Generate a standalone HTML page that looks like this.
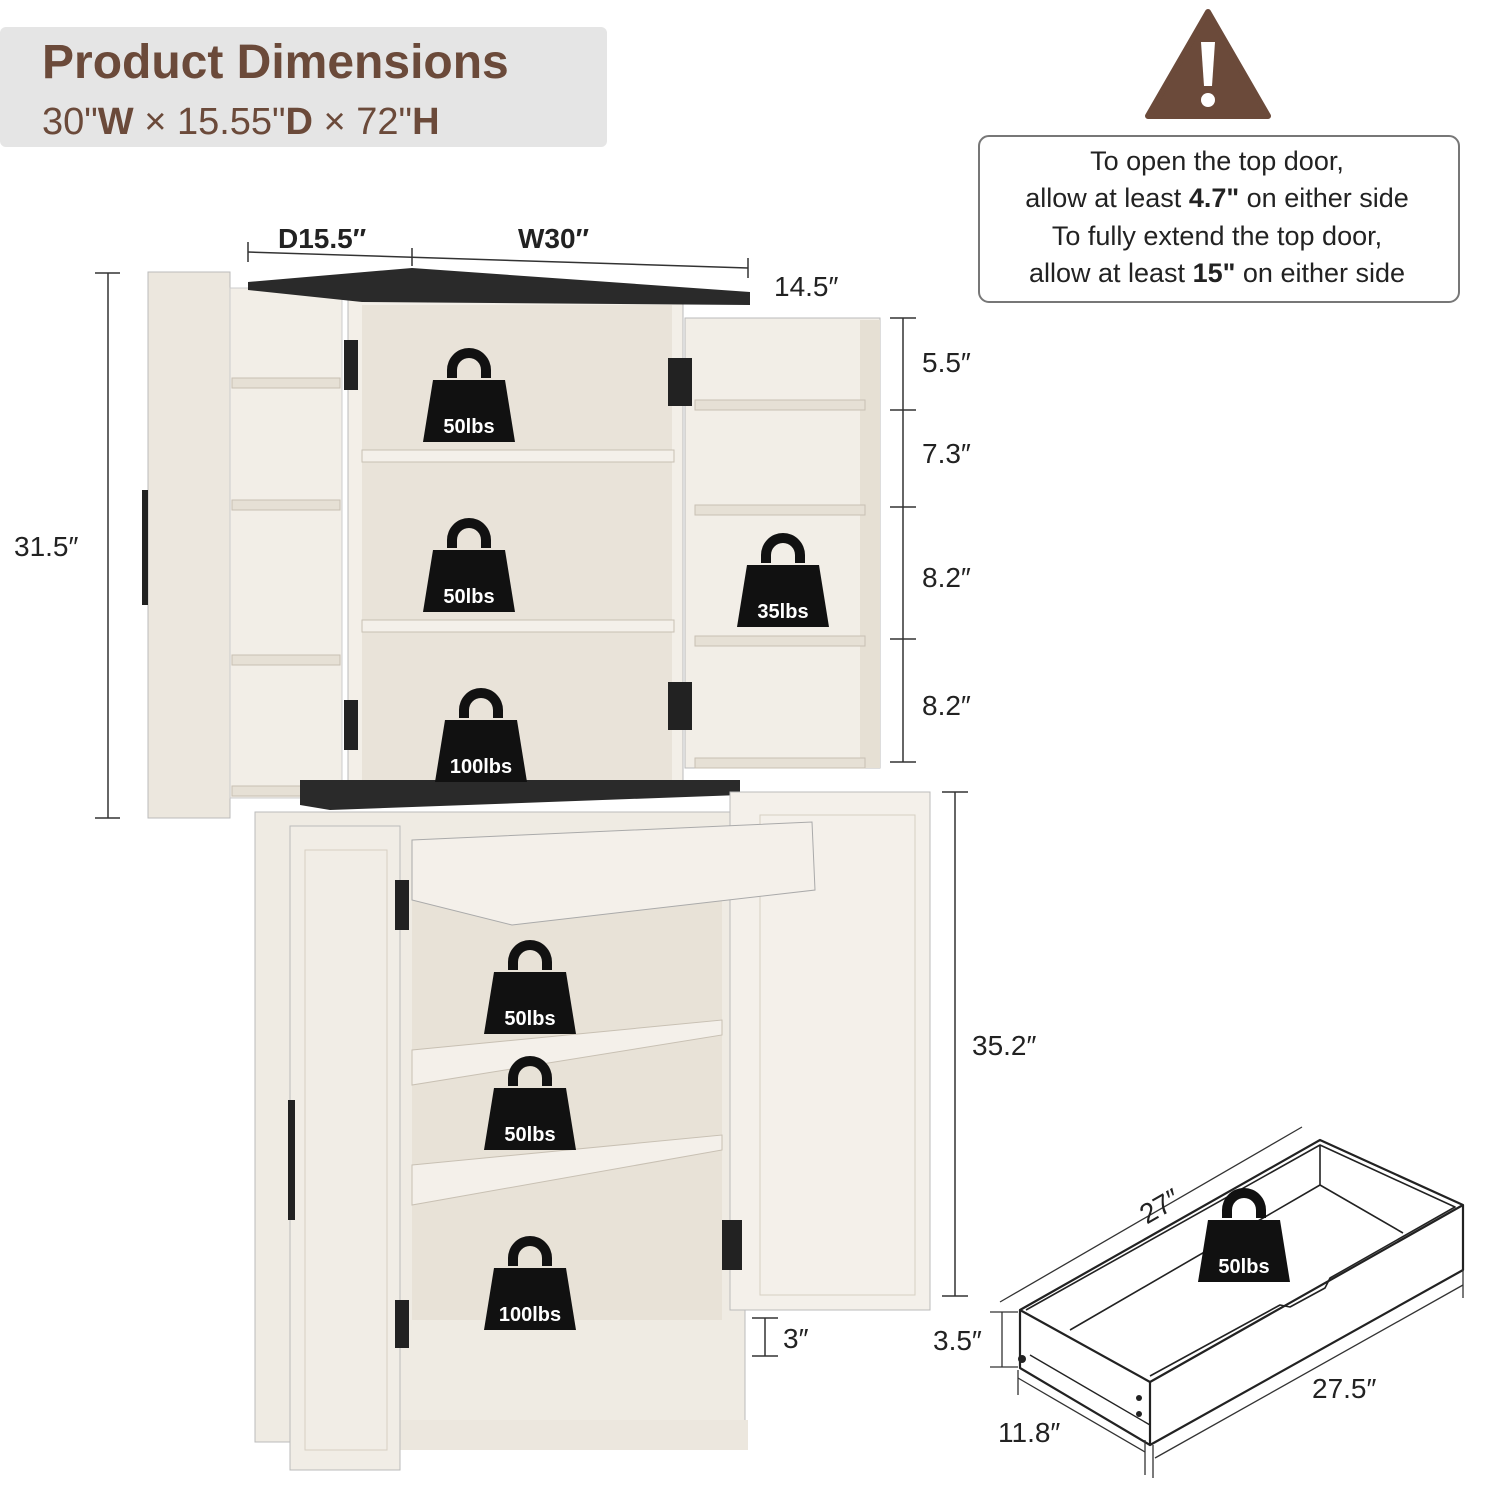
<!DOCTYPE html>
<html><head><meta charset="utf-8"><style>
body{margin:0;background:#fff;}
svg{display:block;font-family:"Liberation Sans",sans-serif;}
</style></head><body>
<svg width="1500" height="1500" viewBox="0 0 1500 1500" xmlns="http://www.w3.org/2000/svg">
<defs>
<g id="kb">
<path d="M-22,-28 a22,22 0 0 1 44,0 v8 h-10 v-8 a12,12 0 0 0 -24,0 v8 h-10z" fill="#111"/>
<path d="M-36,-18 h72 l10,62 h-92z" fill="#111"/>
</g>
</defs>
<rect width="1500" height="1500" fill="#fff"/>
<rect x="0" y="27" width="607" height="120" rx="6" fill="#e5e5e5"/>
<text x="42" y="78" font-size="48" font-weight="bold" fill="#6b4a3a">Product Dimensions</text>
<text x="42" y="134" font-size="38" fill="#6b4a3a">30"<tspan font-weight="bold">W</tspan> × 15.55"<tspan font-weight="bold">D</tspan> × 72"<tspan font-weight="bold">H</tspan></text>
<path d="M1208,12 L1268,116 H1148z" fill="#6b4a3a" stroke="#6b4a3a" stroke-width="6" stroke-linejoin="round"/>
<path d="M1201,42 h14 l-3,44 h-8z" fill="#fff"/>
<circle cx="1208" cy="100" r="7" fill="#fff"/>
<rect x="979" y="136" width="480" height="166" rx="10" fill="#fff" stroke="#777" stroke-width="2"/>
<g font-size="27" fill="#222" text-anchor="middle">
<text x="1217" y="170">To open the top door,</text>
<text x="1217" y="207">allow at least <tspan font-weight="bold">4.7"</tspan> on either side</text>
<text x="1217" y="245">To fully extend the top door,</text>
<text x="1217" y="282">allow at least <tspan font-weight="bold">15"</tspan> on either side</text>
</g>
<g stroke="#333" stroke-width="1.5" fill="none">
<line x1="248" y1="252" x2="748" y2="268"/><line x1="248" y1="242" x2="248" y2="262"/><line x1="412" y1="248" x2="412" y2="266"/><line x1="748" y1="258" x2="748" y2="278"/>
<line x1="108" y1="273" x2="108" y2="818"/><line x1="95" y1="273" x2="120" y2="273"/><line x1="95" y1="818" x2="120" y2="818"/>
<line x1="903" y1="318" x2="903" y2="762"/>
<line x1="890" y1="318" x2="916" y2="318"/><line x1="890" y1="410" x2="916" y2="410"/><line x1="890" y1="507" x2="916" y2="507"/><line x1="890" y1="639" x2="916" y2="639"/><line x1="890" y1="762" x2="916" y2="762"/>
<line x1="955" y1="792" x2="955" y2="1296"/><line x1="942" y1="792" x2="968" y2="792"/><line x1="942" y1="1296" x2="968" y2="1296"/>
<line x1="765" y1="1318" x2="765" y2="1356"/><line x1="752" y1="1318" x2="778" y2="1318"/><line x1="752" y1="1356" x2="778" y2="1356"/>
<line x1="795" y1="320" x2="795" y2="335"/><line x1="697" y1="335" x2="850" y2="335"/>
</g>
<g font-size="28" fill="#222">
<text x="278" y="248" font-weight="bold">D15.5″</text>
<text x="518" y="248" font-weight="bold">W30″</text>
<text x="14" y="556">31.5″</text>
<text x="774" y="296">14.5″</text>
<text x="922" y="372">5.5″</text><text x="922" y="463">7.3″</text><text x="922" y="587">8.2″</text><text x="922" y="715">8.2″</text>
<text x="972" y="1055">35.2″</text><text x="783" y="1348">3″</text>
<text x="532" y="394">10.5″</text><text x="532" y="552">10.5″</text><text x="532" y="724">10.5″</text>
<text x="624" y="974">15.5″</text><text x="648" y="1107">10″</text><text x="648" y="1246">10″</text>
</g>
<rect x="148" y="272" width="82" height="546" fill="#ece7de" stroke="#bbb"/>
<rect x="230" y="288" width="112" height="510" fill="#f2eee7" stroke="#ccc"/>
<g fill="#e6e0d5" stroke="#c8c0b3"><rect x="232" y="378" width="108" height="10"/><rect x="232" y="500" width="108" height="10"/><rect x="232" y="655" width="108" height="10"/><rect x="232" y="786" width="108" height="10"/></g>
<rect x="142" y="490" width="6" height="115" fill="#222"/>
<rect x="348" y="290" width="335" height="500" fill="#f3efe8" stroke="#bbb"/>
<rect x="362" y="305" width="310" height="480" fill="#e9e3d9"/>
<g fill="#f4f0ea" stroke="#c8c0b3"><rect x="362" y="450" width="312" height="12"/><rect x="362" y="620" width="312" height="12"/></g>
<path d="M248,282 L412,268 L750,292 L750,305 L362,302 L248,290z" fill="#2a2a2a"/>
<rect x="685" y="318" width="195" height="450" fill="#f2eee7" stroke="#bbb"/>
<rect x="860" y="320" width="20" height="448" fill="#e6e0d4"/>
<g fill="#e6e0d5" stroke="#c8c0b3"><rect x="695" y="400" width="170" height="10"/><rect x="695" y="505" width="170" height="10"/><rect x="695" y="636" width="170" height="10"/><rect x="695" y="758" width="170" height="10"/></g>
<g fill="#222"><rect x="344" y="340" width="14" height="50"/><rect x="344" y="700" width="14" height="50"/><rect x="668" y="358" width="24" height="48"/><rect x="668" y="682" width="24" height="48"/></g>
<path d="M300,780 L740,780 L740,795 L330,810 L300,805z" fill="#2a2a2a"/>
<rect x="255" y="812" width="490" height="630" fill="#efebe3" stroke="#bbb"/>
<rect x="412" y="900" width="310" height="420" fill="#e8e2d7"/>
<g fill="#f4f0ea" stroke="#c8c0b3"><path d="M412,1050 L722,1020 L722,1035 L412,1085z"/><path d="M412,1165 L722,1135 L722,1150 L412,1205z"/></g>
<rect x="358" y="1420" width="390" height="30" fill="#ece7de"/>
<rect x="290" y="826" width="110" height="644" fill="#f1ede6" stroke="#bbb"/>
<rect x="305" y="850" width="82" height="600" fill="none" stroke="#d6cfc3"/>
<rect x="288" y="1100" width="7" height="120" fill="#222"/>
<rect x="730" y="792" width="200" height="518" fill="#f4f0ea" stroke="#bbb"/>
<rect x="760" y="815" width="155" height="480" fill="none" stroke="#d6cfc3"/>
<path d="M412,840 L812,822 L815,890 L512,925 L412,900z" fill="#f4f0ea" stroke="#aaa"/>
<g fill="#222"><rect x="395" y="880" width="14" height="50"/><rect x="395" y="1300" width="14" height="48"/><rect x="722" y="1220" width="20" height="50"/></g>
<!-- drawer -->
<g stroke="#222" stroke-width="2.2" fill="none" stroke-linejoin="round">
<path d="M1020,1310 L1320,1140 L1463,1205 L1463,1270 L1150,1445 L1020,1368z"/>
<path d="M1020,1310 L1150,1382 L1463,1205"/>
<path d="M1150,1382 L1150,1445"/>
<path d="M1026,1310 L1320,1145 L1455,1207 L1330,1278 L1325,1288 L1290,1307 L1280,1305 L1150,1376" stroke-width="1.6"/>
<path d="M1320,1145 L1320,1185 L1403,1233 M1320,1185 L1070,1330" stroke-width="1.6"/>
<path d="M1030,1355 L1150,1425" stroke-width="1.4"/>
</g>
<g fill="#222"><circle cx="1022" cy="1359" r="4"/><circle cx="1139" cy="1398" r="3"/><circle cx="1139" cy="1414" r="3"/></g>
<g stroke="#333" stroke-width="1.3">
<line x1="1000" y1="1302" x2="1302" y2="1127"/>
<line x1="1018" y1="1378" x2="1145" y2="1452"/><line x1="1018" y1="1370" x2="1018" y2="1395"/><line x1="1145" y1="1440" x2="1145" y2="1475"/>
<line x1="1155" y1="1458" x2="1463" y2="1285"/><line x1="1153" y1="1445" x2="1153" y2="1478"/><line x1="1463" y1="1270" x2="1463" y2="1298"/>
<line x1="1002" y1="1312" x2="1002" y2="1367"/><line x1="990" y1="1312" x2="1018" y2="1312"/><line x1="990" y1="1367" x2="1018" y2="1367"/>
</g>
<g font-size="28" fill="#222">
<text x="1138" y="1218" transform="rotate(-30 1155 1205)">27″</text>
<text x="933" y="1350">3.5″</text><text x="998" y="1442">11.8″</text><text x="1312" y="1398">27.5″</text>
</g>
<g font-size="20" font-weight="bold" fill="#fff" text-anchor="middle">
<use href="#kb" x="469" y="398"/><text x="469" y="433">50lbs</text>
<use href="#kb" x="469" y="568"/><text x="469" y="603">50lbs</text>
<use href="#kb" x="481" y="738"/><text x="481" y="773">100lbs</text>
<use href="#kb" x="783" y="583"/><text x="783" y="618">35lbs</text>
<use href="#kb" x="530" y="990"/><text x="530" y="1025">50lbs</text>
<use href="#kb" x="530" y="1106"/><text x="530" y="1141">50lbs</text>
<use href="#kb" x="530" y="1286"/><text x="530" y="1321">100lbs</text>
<use href="#kb" x="1244" y="1238"/><text x="1244" y="1273">50lbs</text>
</g>
</svg>
</body></html>
